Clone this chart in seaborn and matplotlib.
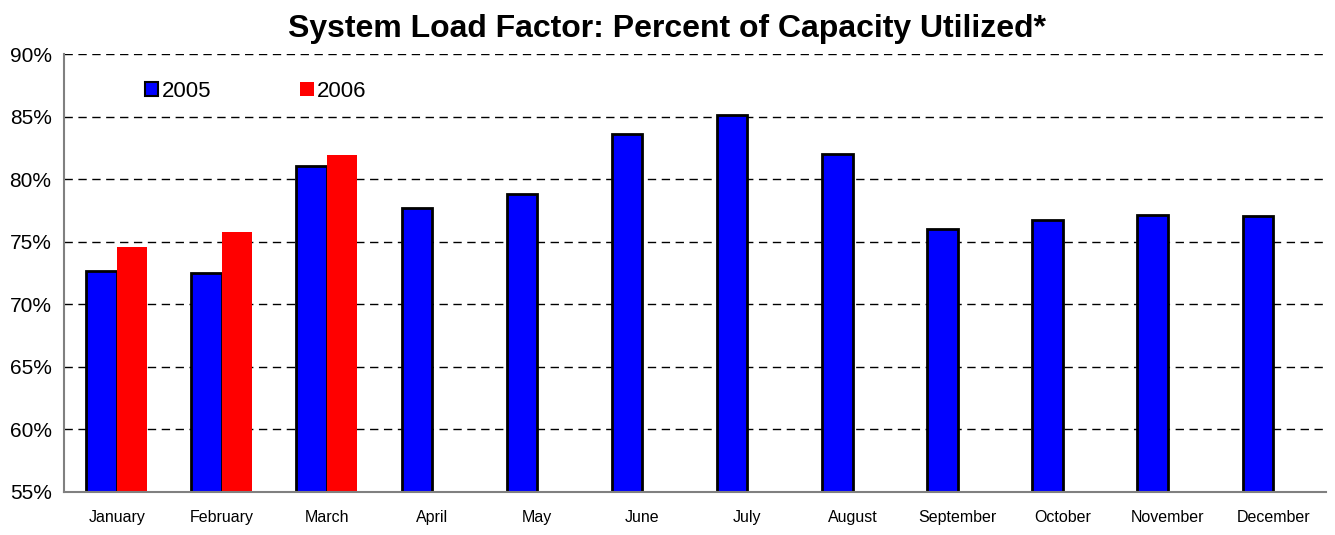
import pandas as pd
import matplotlib
matplotlib.use("Agg")
import matplotlib.pyplot as plt
from matplotlib.patches import Patch
import seaborn as sns
import numpy as np

# Data
months = ['January', 'February', 'March', 'April', 'May', 'June', 'July',
          'August', 'September', 'October', 'November', 'December']
load_2005 = [72.65, 72.5, 81.05, 77.7, 78.8, 83.6, 85.1, 82.0, 76.0, 76.75, 77.15, 77.05]
load_2006 = [74.6, 75.8, 81.9, np.nan, np.nan, np.nan, np.nan, np.nan, np.nan, np.nan, np.nan, np.nan]
years = ['2005', '2006']
y_ticks = [55, 60, 65, 70, 75, 80, 85, 90]

df = pd.DataFrame({
    'month': months * 2,
    'year': [years[0]] * 12 + [years[1]] * 12,
    'load': load_2005 + load_2006,
})

sns.set_style("white")
plt.rcParams['font.family'] = ['Liberation Sans', 'DejaVu Sans']
plt.rcParams['text.color'] = 'black'
plt.rcParams['xtick.color'] = 'black'
plt.rcParams['ytick.color'] = 'black'

fig, ax = plt.subplots(figsize=(13.35, 5.35), dpi=100)
fig.subplots_adjust(left=0.048, right=0.993, top=0.899, bottom=0.081)

sns.barplot(data=df, x='month', y='load', hue='year', order=months,
            hue_order=years, palette={'2005': '#0000FF', '2006': '#FF0000'},
            saturation=1, width=0.58, gap=0, ax=ax, legend=False)

# black outline on 2005 bars only
for p in ax.patches[:12]:
    p.set_edgecolor('black')
    p.set_linewidth(2)
for p in ax.patches[12:]:
    p.set_edgecolor('none')

ax.set_ylim(55, 90)
ax.set_xlim(-0.5, len(months) - 0.5)
ax.set_yticks(y_ticks)
ax.set_yticklabels([f'{t}%' for t in y_ticks], fontsize=15)
ax.tick_params(axis='y', length=6, color='#808080', labelcolor='black', width=1.2, pad=3)
ax.tick_params(axis='x', which='major', length=0, labelsize=11.5, labelcolor='black', pad=13)
ax.set_xticks(np.arange(-0.5, len(months), 1), minor=True)
ax.tick_params(axis='x', which='minor', length=6, color='#808080', width=1.2)
ax.set_xlabel('')
ax.set_ylabel('')

ax.grid(axis='y', color='black', linestyle=(0, (6, 4)), linewidth=1)
ax.set_axisbelow(True)
for s in ['top', 'right']:
    ax.spines[s].set_visible(False)
for s in ['left', 'bottom']:
    ax.spines[s].set_color('#808080')
    ax.spines[s].set_linewidth(1.5)

fig.suptitle('System Load Factor: Percent of Capacity Utilized*',
             fontsize=23, fontweight='bold', x=0.5, y=0.974, va='top')

# legend
handles = [Patch(facecolor='#0000FF', edgecolor='black', linewidth=1.5, label='2005'),
           Patch(facecolor='#FF0000', edgecolor='none', label='2006')]
ax.legend(handles=handles, loc='upper left', bbox_to_anchor=(0.048, 0.985),
          ncol=2, frameon=False, fontsize=16, handlelength=0.62,
          handleheight=0.62, handletextpad=0.15, columnspacing=4.0)

plt.savefig('out.png', dpi=100)
plt.close()
